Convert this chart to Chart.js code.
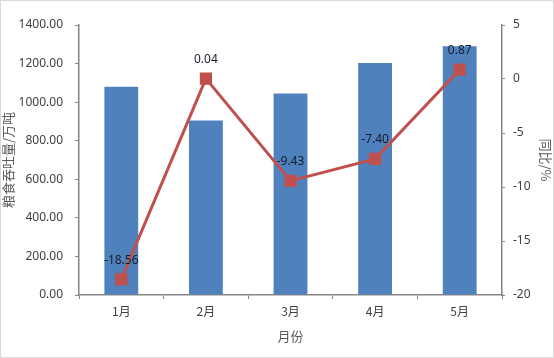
<!DOCTYPE html>
<html><head><meta charset="utf-8">
<script src="https://cdn.jsdelivr.net/npm/chart.js@4/dist/chart.umd.min.js"></script>
<style>html,body{margin:0;padding:0;background:#fff}#wrap{width:554px;height:358px;position:relative}</style>
</head><body><div id="wrap"><canvas id="c"></canvas></div>
<script>
const categories = ['1月','2月','3月','4月','5月'];
const throughput = [1080, 905, 1045, 1203, 1290];
const yoy = [-18.56, 0.04, -9.43, -7.40, 0.87];
const yoyLabels = ['-18.56','0.04','-9.43','-7.40','0.87'];

const labelPlugin = {
  id: 'labels',
  afterDatasetsDraw(chart) {
    const ctx = chart.ctx;
    const meta = chart.getDatasetMeta(1);
    ctx.save();
    ctx.font = '12px "Noto Sans", sans-serif';
    ctx.fillStyle = '#141c2c';
    ctx.textAlign = 'center';
    ctx.textBaseline = 'middle';
    meta.data.forEach((p, i) => { ctx.fillText(yoyLabels[i], p.x, p.y - 19); });
    ctx.restore();
  },
  afterDraw(chart) {
    const ctx = chart.ctx;
    ctx.save();
    ctx.strokeStyle = '#d9d9d9';
    ctx.lineWidth = 1;
    ctx.strokeRect(0.5, 0.5, chart.width - 1, chart.height - 1);
    ctx.restore();
  }
};

const tickFont = {family: '"Noto Sans", sans-serif', size: 12};
const cjkFont = {family: '"Noto Sans CJK SC", sans-serif', size: 12};

new Chart(document.getElementById('c'), {
  data: {
    labels: categories,
    datasets: [
      {type: 'bar', data: throughput, backgroundColor: '#4F81BD', yAxisID: 'y', order: 2,
       categoryPercentage: 1, barPercentage: 0.4},
      {type: 'line', data: yoy, borderColor: '#C0504D', backgroundColor: '#C0504D', borderWidth: 3,
       pointStyle: 'rect', pointRadius: 6.5, pointHoverRadius: 6.5, yAxisID: 'y1', order: 1, tension: 0}
    ]
  },
  options: {
    responsive: true, maintainAspectRatio: false, animation: false,
    layout: {padding: {top: 25, right: 0, bottom: 0, left: 0}},
    plugins: {legend: {display: false}, tooltip: {enabled: false}},
    scales: {
      x: {
        grid: {display: true, drawOnChartArea: false, drawTicks: true, tickLength: 4, color: '#868686'},
        border: {color: '#868686', width: 1.5},
        ticks: {font: cjkFont, color: '#404040', padding: 5},
        title: {display: true, text: '月份', font: {family: '"Noto Sans CJK SC", sans-serif', size: 13}, color: '#595959', padding: {top: 4, bottom: 14}},
        afterFit(s) { s.height = 63; }
      },
      y: {
        position: 'left', min: 0, max: 1400,
        grid: {display: true, drawOnChartArea: false, drawTicks: true, tickLength: 4, color: '#868686'},
        border: {color: '#868686', width: 1.5},
        ticks: {stepSize: 200, font: tickFont, color: '#404040', padding: 12, callback: v => v.toFixed(2)},
        title: {display: true, text: '粮食吞吐量/万吨', font: {family: '"Noto Sans CJK SC", sans-serif', size: 13}, color: '#595959', padding: {top: 0, bottom: 2}},
        afterFit(s) { s.width = 79; }
      },
      y1: {
        position: 'right', min: -20, max: 5,
        grid: {display: true, drawOnChartArea: false, drawTicks: true, tickLength: 3, color: '#868686'},
        border: {color: '#868686', width: 1.5},
        ticks: {stepSize: 5, font: tickFont, color: '#404040', padding: 8},
        title: {display: true, text: '同比/%', font: {family: '"Noto Sans CJK SC", sans-serif', size: 13}, color: '#595959', padding: {top: 0, bottom: 3}},
        afterFit(s) { s.width = 52; }
      }
    }
  },
  plugins: [labelPlugin]
});
</script></body></html>
